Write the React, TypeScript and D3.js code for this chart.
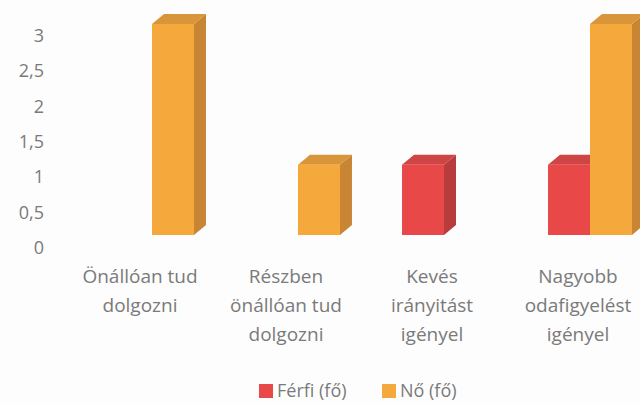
import React from 'react';
import { scaleBand, scaleLinear, range } from 'd3';

const W = 640;
const H = 403;

const categories = [
  ['Önállóan tud', 'dolgozni'],
  ['Részben', 'önállóan tud', 'dolgozni'],
  ['Kevés', 'irányitást', 'igényel'],
  ['Nagyobb', 'odafigyelést', 'igényel']
];
const seriesNames = ['Férfi (fő)', 'Nő (fő)'];
const ferfi = [0, 0, 1, 1];
const no = [3, 1, 0, 3];
const yTicks = [0, 0.5, 1, 1.5, 2, 2.5, 3];

const FRONT = ['#e84848', '#f5a83c'];
const SIDE = ['#b83c3c', '#c88634'];
const TOP = ['#cf4444', '#d9953a'];
const DX = 12;
const DY = -10;
const FONT = '"Open Sans", "DejaVu Sans", sans-serif';
const TEXT = '#7a7a7a';

const App = () => {
  const keys = range(categories.length);
  const x = scaleBand<number>()
    .domain(keys)
    .range([79, 663])
    .paddingInner(0.425)
    .paddingOuter(0.2125);
  const xSub = scaleBand<number>().domain([0, 1]).range([0, x.bandwidth()]);
  // bars sit a bit deeper than the axis labels
  const yBar = scaleLinear().domain([0, 3]).range([235, 24]);
  const yAxis = scaleLinear().domain([0, 3]).range([247, 35]);
  const series = [ferfi, no];
  const labelX = (i: number) => (x(i) as number) + x.bandwidth() / 2 - 12;

  const bars: any[] = [];
  keys.forEach(i => {
    series.forEach((vals, s) => {
      const v = vals[i];
      if (!v) return;
      const bx = (x(i) as number) + (xSub(s) as number);
      const bw = xSub.bandwidth();
      const top = yBar(v);
      const base = yBar(0);
      bars.push(
        <g key={`${i}-${s}`}>
          <polygon
            points={`${bx + bw},${top} ${bx + bw + DX},${top + DY} ${bx + bw + DX},${base + DY} ${bx + bw},${base}`}
            fill={SIDE[s]}
          />
          <polygon
            points={`${bx},${top} ${bx + DX},${top + DY} ${bx + bw + DX},${top + DY} ${bx + bw},${top}`}
            fill={TOP[s]}
          />
          <rect x={bx} y={top} width={bw} height={base - top} fill={FRONT[s]} />
        </g>
      );
    });
  });

  return (
    <svg width={W} height={H} style={{ position: 'absolute', left: 0, top: 0, background: '#fdfdfd' }}>
      <rect width={W} height={H} fill="#fdfdfd" />
      {yTicks.map(t => (
        <text
          key={t}
          x={44}
          y={yAxis(t)}
          textAnchor="end"
          dominantBaseline="central"
          fontFamily={FONT}
          fontSize={18}
          fill={TEXT}
        >
          {String(t).replace('.', ',')}
        </text>
      ))}
      {bars}
      {categories.map((lines, i) => (
        <text key={i} textAnchor="middle" fontFamily={FONT} fontSize={19} fill={TEXT}>
          {lines.map((l, j) => (
            <tspan key={j} x={labelX(i)} y={276 + j * 29} dominantBaseline="central">
              {l}
            </tspan>
          ))}
        </text>
      ))}
      <g fontFamily={FONT} fontSize={18} fill={TEXT}>
        <rect x={259} y={384} width={14} height={14} fill={FRONT[0]} />
        <text x={277} y={390} dominantBaseline="central">{seriesNames[0]}</text>
        <rect x={382} y={384} width={14} height={14} fill={FRONT[1]} />
        <text x={400} y={390} dominantBaseline="central">{seriesNames[1]}</text>
      </g>
    </svg>
  );
};

export default App;
